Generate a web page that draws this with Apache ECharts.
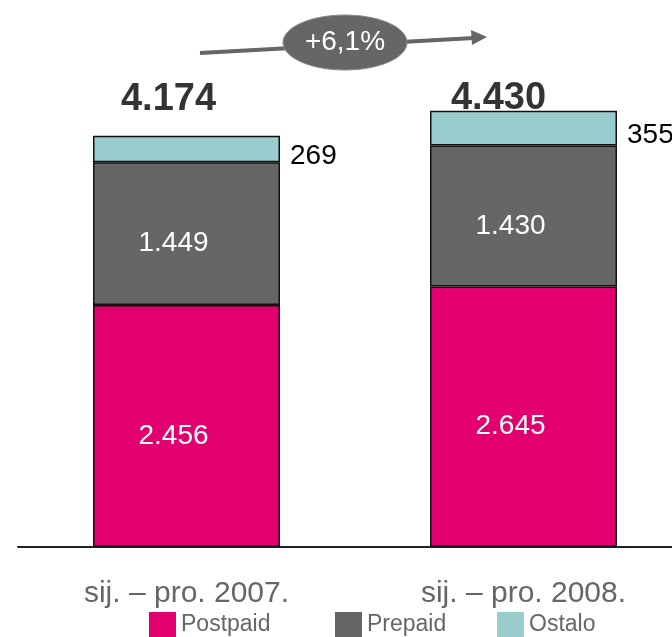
<!DOCTYPE html>
<html>
<head>
<meta charset="utf-8">
<script src="https://cdn.jsdelivr.net/npm/echarts@6/dist/echarts.min.js"></script>
<style>
    html, body { margin: 0; padding: 0; background: #fff; }
    #chart { width: 672px; height: 637px; }
</style>
</head>
<body>
<div id="chart"></div>
<script>
var categories = ['sij. \u2013 pro. 2007.', 'sij. \u2013 pro. 2008.'];
var postpaid = [2456, 2645];
var prepaid = [1449, 1430];
var ostalo = [269, 355];
var totals = [4174, 4430];
var growthText = '+6,1%';

var FONT = '"Liberation Sans", Arial, sans-serif';

function fmt(n) {
    return String(n).replace(/\B(?=(\d{3})+(?!\d))/g, '.');
}

window.onload = function () {
    var chart = echarts.init(document.getElementById('chart'));

    var innerLabel = {
        show: true,
        position: 'inside',
        color: '#fff',
        fontSize: 28,
        fontFamily: FONT,
        offset: [-13, 10],
        formatter: function (p) { return fmt(p.value); }
    };

    // totals sit at the same height above both bars
    var totalData = totals.map(function (v, i) {
        return {
            value: v,
            label: { offset: i === 0 ? [-18, -36] : [-25, -12] }
        };
    });

    var option = {
        animation: false,
        grid: { left: 18, width: 674, top: 54.5, bottom: 90, outerBoundsMode: 'none', containLabel: false },
        xAxis: {
            type: 'category',
            data: categories,
            axisTick: { show: false },
            axisLine: { lineStyle: { color: '#222', width: 2 } },
            axisLabel: { color: '#666', fontSize: 30, fontFamily: FONT, margin: 32 }
        },
        yAxis: {
            type: 'value',
            min: 0,
            max: 5000,
            show: false,
            splitLine: { show: false }
        },
        legend: [
            { data: ['Postpaid'], left: 149, top: 612 },
            { data: ['Prepaid'], left: 335, top: 612 },
            { data: ['Ostalo'], left: 497, top: 612 }
        ].map(function (l) {
            l.padding = 0;
            l.itemWidth = 27;
            l.itemHeight = 26;
            l.icon = 'rect';
            l.itemStyle = { borderWidth: 0 };
            l.textStyle = { color: '#666', fontSize: 23, fontFamily: FONT };
            return l;
        }),
        series: [
            {
                name: 'Postpaid',
                type: 'bar',
                stack: 'a',
                barWidth: 187,
                data: postpaid,
                itemStyle: { color: '#E2006F', borderColor: '#111', borderWidth: 1.5 },
                label: innerLabel
            },
            {
                name: 'Prepaid',
                type: 'bar',
                stack: 'a',
                data: prepaid,
                itemStyle: { color: '#666666', borderColor: '#111', borderWidth: 1.5 },
                label: innerLabel
            },
            {
                name: 'Ostalo',
                type: 'bar',
                stack: 'a',
                data: ostalo,
                itemStyle: { color: '#99CCCC', borderColor: '#111', borderWidth: 1.5 },
                label: {
                    show: true,
                    position: 'right',
                    distance: 10,
                    offset: [0, 7],
                    color: '#000',
                    fontSize: 28,
                    fontFamily: FONT
                }
            },
            {
                name: 'Ukupno',
                type: 'scatter',
                symbolSize: 0,
                data: totalData,
                silent: true,
                label: {
                    show: true,
                    position: 'inside',
                    color: '#000',
                    textBorderWidth: 0,
                    fontSize: 38,
                    fontWeight: 'bold',
                    fontFamily: FONT,
                    formatter: function (p) { return fmt(p.value); }
                }
            }
        ],
        graphic: [
            {
                type: 'line',
                shape: { x1: 200, y1: 53, x2: 474, y2: 38 },
                style: { stroke: '#666', lineWidth: 4 }
            },
            {
                type: 'polygon',
                shape: { points: [[487, 37], [471, 30], [472, 45]] },
                style: { fill: '#666' }
            },
            {
                type: 'ellipse',
                shape: { cx: 345, cy: 42.5, rx: 62, ry: 27.5 },
                style: { fill: '#666', stroke: '#888', lineWidth: 1 }
            },
            {
                type: 'text',
                x: 345,
                y: 42,
                style: {
                    text: growthText,
                    fill: '#fff',
                    font: '500 28px ' + FONT,
                    align: 'center',
                    verticalAlign: 'middle'
                }
            }
        ]
    };

    chart.setOption(option);
};
</script>
</body>
</html>
